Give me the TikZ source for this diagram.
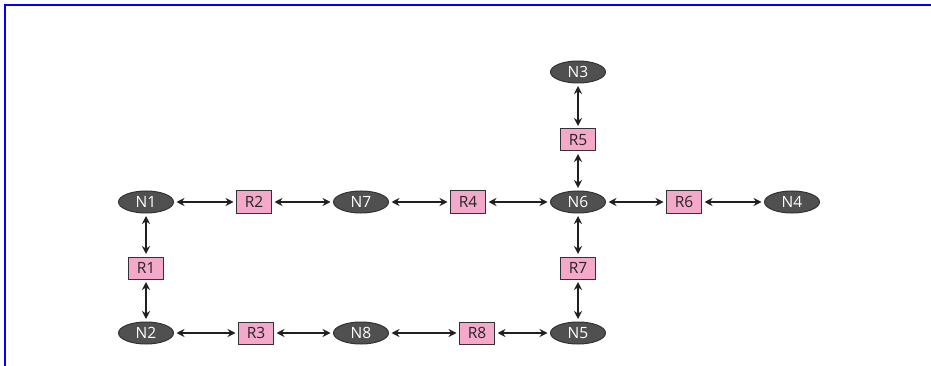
\documentclass[tikz,border=0pt]{standalone}
\usepackage{fontspec}
\setmainfont{Open Sans}
\usetikzlibrary{shapes.geometric,arrows.meta}
\definecolor{nodegray}{HTML}{505050}
\definecolor{nodeedge}{HTML}{333333}
\definecolor{rpink}{HTML}{F4A8CA}
\definecolor{arrowc}{HTML}{231F20}
\definecolor{frameblue}{HTML}{0000FF}
\begin{document}
\begin{tikzpicture}[x=1pt,y=-1pt,
  nnode/.style={ellipse,draw=nodeedge,fill=nodegray,line width=1pt,minimum width=55pt,minimum height=22pt,inner sep=0pt,text=white,font=\fontsize{15.5}{17}\selectfont},
  rnode/.style={rectangle,draw=nodeedge,fill=rpink,line width=1pt,minimum width=35pt,minimum height=22pt,inner sep=0pt,text=black!85,font=\fontsize{15.5}{17}\selectfont},
  link/.style={draw=arrowc,line width=2.1pt,{Stealth[length=8pt,width=8pt]}-{Stealth[length=8pt,width=8pt]},shorten <=2.5pt,shorten >=2.5pt}]
\useasboundingbox (0,0) rectangle (931,366);
\fill[white] (0,0) rectangle (931,366);
\draw[frameblue,line width=2pt] (4.5,366) -- (4.5,5.5) -- (931,5.5);
% nodes
\node[nnode] (N3) at (578,72) {N3};
\node[rnode] (R5) at (578,140) {R5};
\node[nnode] (N1) at (146,202) {N1};
\node[rnode] (R2) at (254,202) {R2};
\node[nnode] (N7) at (361,202) {N7};
\node[rnode] (R4) at (468,202) {R4};
\node[nnode] (N6) at (578,202) {N6};
\node[rnode] (R6) at (684,202) {R6};
\node[nnode] (N4) at (792,202) {N4};
\node[rnode] (R1) at (146,268) {R1};
\node[rnode] (R7) at (578,268) {R7};
\node[nnode] (N2) at (146,333) {N2};
\node[rnode] (R3) at (256,333) {R3};
\node[nnode] (N8) at (361,333) {N8};
\node[rnode] (R8) at (477,333) {R8};
\node[nnode] (N5) at (578,333) {N5};
% links
\draw[link] (N3) -- (R5);
\draw[link] (R5) -- (N6);
\draw[link] (N1) -- (R2);
\draw[link] (R2) -- (N7);
\draw[link] (N7) -- (R4);
\draw[link] (R4) -- (N6);
\draw[link] (N6) -- (R6);
\draw[link] (R6) -- (N4);
\draw[link] (N1) -- (R1);
\draw[link] (R1) -- (N2);
\draw[link] (N6) -- (R7);
\draw[link] (R7) -- (N5);
\draw[link] (N2) -- (R3);
\draw[link] (R3) -- (N8);
\draw[link] (N8) -- (R8);
\draw[link] (R8) -- (N5);
\end{tikzpicture}
\end{document}
